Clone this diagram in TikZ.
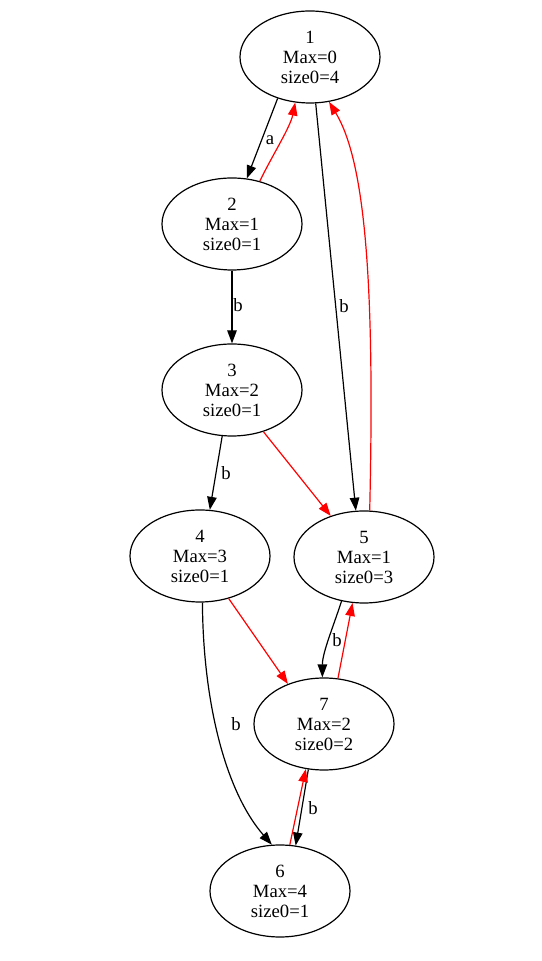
\documentclass[tikz,border=0pt]{standalone}
\usepackage{fontspec}
\setmainfont{Liberation Serif}
\usetikzlibrary{shapes.geometric,arrows.meta}

\tikzset{
  state/.style={draw,ellipse,line width=1.2bp,minimum width=140bp,minimum height=92bp,
    inner sep=0pt,align=center,font=\fontsize{18.7bp}{20bp}\selectfont},
  edge/.style={line width=1.2bp,-{Triangle[length=13bp,width=9.5bp]}},
  back/.style={edge,red},
  lbl/.style={font=\fontsize{18.7bp}{20bp}\selectfont,inner sep=0pt}
}

\begin{document}
\begin{tikzpicture}[x=1bp,y=1bp]
        \useasboundingbox (0,0) rectangle (542,961);
        % states
        \node[state] (n1) at (310,904) {1\\Max=0\\size0=4};
        \node[state] (n2) at (232,737) {2\\Max=1\\size0=1};
        \node[state] (n3) at (232,571) {3\\Max=2\\size0=1};
        \node[state] (n4) at (200,405) {4\\Max=3\\size0=1};
        \node[state] (n5) at (364,404) {5\\Max=1\\size0=3};
        \node[state] (n7) at (324,237) {7\\Max=2\\size0=2};
        \node[state] (n6) at (280,70) {6\\Max=4\\size0=1};
        % transitions
        \draw[edge] (n1.232) -- (n2.72);
        \draw[edge] (n2.south) -- (n3.north);
        \draw[edge] (n1.277) -- (n5.100);
        \draw[edge] (n3.258) -- (n4.78);
        \draw[edge] (n5.243) .. controls +(-8,-25) and +(0,25) .. (n7.92);
        \draw[edge] (n4.273) .. controls (203,260) and (225,170) .. (n6.100);
        \draw[edge] (n7.251) -- (n6.71);
        % back links
        \draw[back] (n2.57) .. controls +(12,25) and +(-5,-25) .. (n1.252);
        \draw[back] (n5.83) .. controls (375,680) and (365,800) .. (n1.293);
        \draw[back] (n3.307) -- (n5.129);
        \draw[back] (n7.73) -- (n5.256);
        \draw[back] (n4.304) -- (n7.132);
        \draw[back] (n6.78) -- (n7.248);
        % labels
        \node[lbl] (la) at (270,821) {a};
        \node[lbl] (lb23) at (238,656) {b};
        \node[lbl] (lb15) at (344,655) {b};
        \node[lbl] (lb34) at (226,488) {b};
        \node[lbl] (lb57) at (337,321) {b};
        \node[lbl] (lb46) at (236,237) {b};
        \node[lbl] (lb76) at (313,153) {b};
\end{tikzpicture}
\end{document}
